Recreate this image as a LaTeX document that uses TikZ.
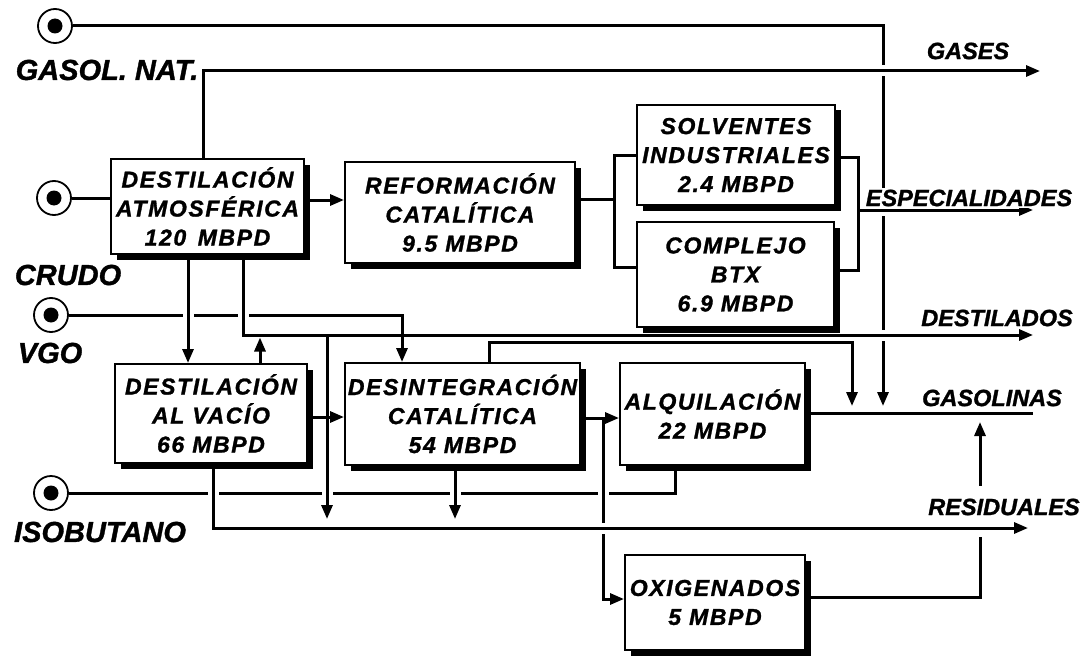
\documentclass[tikz,border=0pt]{standalone}
\usepackage{fontspec}
\setmainfont{Liberation Sans}[BoldItalicFeatures={FakeBold=1.2}]
\newfontfamily\boxfont{Liberation Sans}[LetterSpace=7,BoldItalicFeatures={FakeBold=1.2}]
\usetikzlibrary{arrows.meta,shadows}
\newcommand\hgapat[2]{\fill[white] (#1-5.5,#2-4.5) rectangle (#1+5.5,#2+4.5);}
\newcommand\vgapat[2]{\fill[white] (#1-4.5,#2-5.5) rectangle (#1+4.5,#2+5.5);}
\tikzset{
  flow/.style={line width=3pt},
  arr/.style={flow,-{Triangle[length=14pt,width=11pt]}},
  unit/.style={draw, line width=2pt, fill=white, inner sep=0pt, align=center,
     font=\boxfont\bfseries\itshape\fontsize{23}{29}\selectfont,
     drop shadow={shadow xshift=5.5pt, shadow yshift=-5.5pt, fill=black, opacity=1}},
  src/.style={circle, draw, line width=1.8pt, minimum size=34pt, inner sep=0pt,
     path picture={\fill (path picture bounding box.center) circle (7.5pt);}},
  inlabel/.style={font=\bfseries\itshape\fontsize{29}{30}\selectfont, inner sep=1pt},
  outlabel/.style={font=\bfseries\itshape\fontsize{23.5}{25}\selectfont, inner sep=2pt, fill=white},
}
\begin{document}
\begin{tikzpicture}[x=1pt,y=-1pt]
\useasboundingbox (0,0) rectangle (1092,658);
% process units
\node[unit, minimum width=193pt, minimum height=95pt]  (atm) at (207.5,206.5) {DESTILACIÓN\\ATMOSFÉRICA\\120\enspace MBPD};
\node[unit, minimum width=230pt, minimum height=101pt] (ref) at (460,212.5) {REFORMACIÓN\\CATALÍTICA\\9.5 MBPD};
\node[unit, minimum width=198pt, minimum height=100pt] (sol) at (736,155) {SOLVENTES\\INDUSTRIALES\\2.4 MBPD};
\node[unit, minimum width=197pt, minimum height=105pt] (btx) at (735.5,274.5) {COMPLEJO\\BTX\\6.9 MBPD};
\node[unit, minimum width=192pt, minimum height=99pt]  (vac) at (211,413.5) {DESTILACIÓN\\AL VACÍO\\66 MBPD};
\node[unit, minimum width=235pt, minimum height=102pt] (des) at (462.5,414) {DESINTEGRACIÓN\\CATALÍTICA\\54 MBPD};
\node[unit, minimum width=185pt, minimum height=102pt] (alq) at (712.5,414) {ALQUILACIÓN\\22 MBPD};
\node[unit, minimum width=180pt, minimum height=95pt]  (oxi) at (715,602.5) {OXIGENADOS\\5 MBPD};
% feeds
\node[src] (gn) at (55,26) {};
\node[src] (cr) at (54,198) {};
\node[src] (vg) at (51,315) {};
\node[src] (ib) at (51,493) {};
\node[inlabel] (lgn) at (107,70) {GASOL. NAT.};
\node[inlabel] (lcr) at (68,275) {CRUDO};
\node[inlabel] (lvg) at (50,353) {VGO};
\node[inlabel] (lib) at (100,532) {ISOBUTANO};
% lines passing under others
\draw[flow] (ib.east) -| (alq.south -| 675,0);
\draw[arr] (vg.east) -| (des.north -| 402,0);
\draw[arr] (gn.east) -| (883,406);
\draw[arr] (oxi.east |- 0,597) -| (980,422);
\hgapat{188}{315} \hgapat{243}{315}
\hgapat{213}{493} \hgapat{327}{493} \hgapat{455}{493} \hgapat{603}{493}
\vgapat{883}{71} \vgapat{883}{210} \vgapat{883}{335}
\fill[white] (975,486) rectangle (985,537);
\draw[arr] (des.east |- 0,418) -| (603,418) |- (oxi.west |- 0,599);
\vgapat{603}{528}
% remaining connectors
\draw[flow] (cr.east) -- (atm.west |- cr.east);
\draw[arr] ([xshift=-4.5pt]atm.north) |- (1040,71);
\draw[arr] (atm.east |- 0,200) -- (ref.west |- 0,200);
\draw[flow] (ref.east |- 0,199) -- (614,199);
\draw[flow] (sol.west) -| (614,267) -- (btx.west |- 0,267);
\draw[flow] (sol.east |- 0,157) -| (858,270) -- (btx.east |- 0,270);
\draw[arr] (858,210) -- (1033,210);
\draw[arr] (atm.south -| 188,0) -- (vac.north -| 188,0);
\draw[arr] (atm.south -| 243,0) |- (1033,335);
\draw[arr] (vac.north -| 260,0) -- (260,337.5);
\draw[arr] (327,335) -- (327,519);
\draw[arr] (vac.east |- 0,417) -- (des.west |- 0,417);
\draw[arr] (vac.south -| 213,0) |- (1028,528);
\draw[arr] (des.south -| 455,0) -- (455,519);
\draw[arr] (des.east |- 0,418) -- (alq.west |- 0,418);
\draw[arr] (des.north -| 489,0) |- (852,342) -- (852,406);
\draw[flow] (alq.east |- 0,413) -- (1033,413);
% product labels
\node[outlabel] (lgas) at (968,51) {GASES};
\node[outlabel] (lesp) at (969,198) {ESPECIALIDADES};
\node[outlabel] (ldst) at (997,318) {DESTILADOS};
\node[outlabel] (lgsl) at (992,398) {GASOLINAS};
\node[outlabel] (lres) at (1004,507) {RESIDUALES};
\end{tikzpicture}
\end{document}
